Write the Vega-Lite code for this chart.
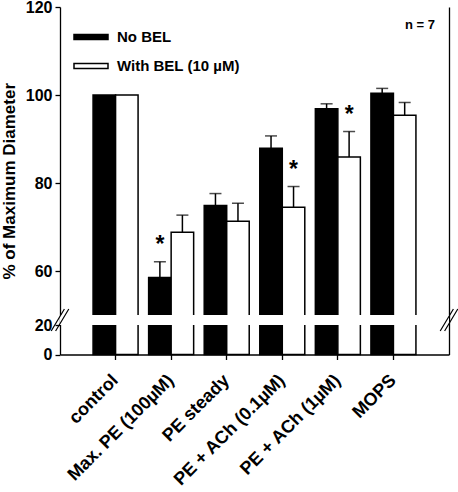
{
  "$schema": "https://vega.github.io/schema/vega-lite/v6.json",
  "width": 389,
  "height": 347.5,
  "autosize": {"type": "none"},
  "padding": {"left": 60, "top": 7, "right": 9, "bottom": 137.5},
  "background": "white",
  "config": {
    "font": "Liberation Sans",
    "view": {"stroke": null},
    "axis": {"zindex": 1, "grid": false, "domainColor": "black", "tickColor": "black", "labelColor": "black", "titleColor": "black", "domainWidth": 1.3, "tickWidth": 1.3}
  },
  "datasets": {
    "main": [
      {"condition": "control", "group": "No BEL", "mean": 100, "upper": 100, "sig": false},
      {"condition": "control", "group": "With BEL (10 µM)", "mean": 100, "upper": 100, "sig": false},
      {"condition": "Max. PE (100µM)", "group": "No BEL", "mean": 58.5, "upper": 62.1, "sig": true},
      {"condition": "Max. PE (100µM)", "group": "With BEL (10 µM)", "mean": 68.8, "upper": 72.7, "sig": false},
      {"condition": "PE steady", "group": "No BEL", "mean": 74.9, "upper": 77.6, "sig": false},
      {"condition": "PE steady", "group": "With BEL (10 µM)", "mean": 71.3, "upper": 75.4, "sig": false},
      {"condition": "PE + ACh (0.1µM)", "group": "No BEL", "mean": 87.9, "upper": 90.7, "sig": false},
      {"condition": "PE + ACh (0.1µM)", "group": "With BEL (10 µM)", "mean": 74.5, "upper": 79.2, "sig": true},
      {"condition": "PE + ACh (1µM)", "group": "No BEL", "mean": 96.9, "upper": 98.0, "sig": false},
      {"condition": "PE + ACh (1µM)", "group": "With BEL (10 µM)", "mean": 85.9, "upper": 91.7, "sig": true},
      {"condition": "MOPS", "group": "No BEL", "mean": 100.4, "upper": 101.5, "sig": false},
      {"condition": "MOPS", "group": "With BEL (10 µM)", "mean": 95.4, "upper": 98.3, "sig": false}
    ],
    "sides": [{"side": "left"}, {"side": "right"}],
    "note": [{"label": "n = 7"}]
  },
  "layer": [
    {
      "data": {"name": "main"},
      "mark": {"type": "bar", "stroke": "black", "strokeWidth": 1.5},
      "encoding": {
        "x": {"field": "condition", "type": "nominal",
          "scale": {"domain": ["control", "Max. PE (100µM)", "PE steady", "PE + ACh (0.1µM)", "PE + ACh (1µM)", "MOPS"], "paddingInner": 0.19, "paddingOuter": 0.595},
          "axis": {"title": null, "labelAngle": -45, "labelFontSize": 18, "labelFontWeight": "bold", "labelAlign": "right", "labelBaseline": "middle", "labelPadding": 18, "labelDx": 17, "tickSize": 5, "labelLimit": 300}},
        "xOffset": {"field": "group", "type": "nominal", "scale": {"domain": ["No BEL", "With BEL (10 µM)"], "paddingInner": 0, "paddingOuter": 0}},
        "y": {"field": "mean", "type": "quantitative",
          "scale": {"domain": [0, 20, 50, 120], "range": [347.5, 318, 308, 0], "nice": false, "zero": false},
          "axis": {"values": [0, 20, 60, 80, 100, 120], "labelFontSize": 16, "labelFontWeight": "bold", "tickSize": 5, "labelPadding": 3, "title": "% of Maximum Diameter", "titleFontSize": 17, "titleFontWeight": "bold", "titlePadding": 7}},
        "fill": {"field": "group", "type": "nominal",
          "scale": {"domain": ["No BEL", "With BEL (10 µM)"], "range": ["black", "white"]},
          "legend": {"title": null, "orient": "none", "legendX": 13, "legendY": 12, "direction": "vertical", "symbolType": "M-1,-0.147H1V0.147H-1Z", "symbolSize": 1156, "symbolStrokeColor": "black", "symbolStrokeWidth": 1.5, "labelFontSize": 15, "labelFontWeight": "bold", "labelColor": "black", "labelOffset": 8, "rowPadding": 3, "padding": 0}}
      }
    },
    {
      "data": {"name": "main"},
      "transform": [{"filter": "datum.upper > datum.mean"}],
      "mark": {"type": "rule", "color": "black", "strokeWidth": 1.5},
      "encoding": {
        "x": {"field": "condition", "type": "nominal", "scale": {"domain": ["control", "Max. PE (100µM)", "PE steady", "PE + ACh (0.1µM)", "PE + ACh (1µM)", "MOPS"], "paddingInner": 0.19, "paddingOuter": 0.595}, "axis": null},
        "xOffset": {"field": "group", "type": "nominal", "scale": {"domain": ["No BEL", "With BEL (10 µM)"], "paddingInner": 0, "paddingOuter": 0}},
        "y": {"field": "mean", "type": "quantitative", "axis": null},
        "y2": {"field": "upper"}
      }
    },
    {
      "data": {"name": "main"},
      "transform": [{"filter": "datum.upper > datum.mean"}],
      "mark": {"type": "tick", "color": "black", "thickness": 1.5, "size": 12},
      "encoding": {
        "x": {"field": "condition", "type": "nominal", "scale": {"domain": ["control", "Max. PE (100µM)", "PE steady", "PE + ACh (0.1µM)", "PE + ACh (1µM)", "MOPS"], "paddingInner": 0.19, "paddingOuter": 0.595}, "axis": null},
        "xOffset": {"field": "group", "type": "nominal", "scale": {"domain": ["No BEL", "With BEL (10 µM)"], "paddingInner": 0, "paddingOuter": 0}},
        "y": {"field": "upper", "type": "quantitative", "axis": null}
      }
    },
    {
      "data": {"name": "main"},
      "transform": [{"filter": "datum.sig"}],
      "mark": {"type": "text", "text": "*", "fontSize": 23, "fontWeight": "bold", "color": "black", "baseline": "alphabetic", "dy": -10},
      "encoding": {
        "x": {"field": "condition", "type": "nominal", "scale": {"domain": ["control", "Max. PE (100µM)", "PE steady", "PE + ACh (0.1µM)", "PE + ACh (1µM)", "MOPS"], "paddingInner": 0.19, "paddingOuter": 0.595}, "axis": null},
        "xOffset": {"field": "group", "type": "nominal", "scale": {"domain": ["No BEL", "With BEL (10 µM)"], "paddingInner": 0, "paddingOuter": 0}},
        "y": {"field": "upper", "type": "quantitative", "axis": null}
      }
    },
    {
      "data": {"name": "note"},
      "mark": {"type": "rect", "fill": "white"},
      "encoding": {
        "y": {"datum": 20, "type": "quantitative", "axis": {"orient": "right", "labels": false, "ticks": false, "title": null, "domain": true}},
        "y2": {"datum": 50}
      }
    },
    {
      "data": {"name": "sides"},
      "mark": {"type": "point", "shape": "M-0.8,1L0.4,-1M-0.4,1L0.8,-1", "filled": false, "stroke": "black", "strokeWidth": 1.2, "size": 484, "opacity": 1},
      "encoding": {
        "x": {"field": "side", "type": "nominal", "scale": {"type": "point", "padding": 0, "domain": ["left", "right"]}, "axis": null},
        "y": {"datum": 35, "type": "quantitative", "axis": null}
      }
    },
    {
      "data": {"name": "note"},
      "mark": {"type": "text", "fontSize": 13, "fontWeight": "bold", "color": "black", "align": "right", "baseline": "middle", "dx": -14},
      "encoding": {
        "text": {"field": "label"},
        "x": {"datum": "right", "type": "nominal", "scale": {"type": "point", "padding": 0, "domain": ["left", "right"]}, "axis": null},
        "y": {"datum": 116, "type": "quantitative", "axis": null}
      }
    }
  ],
  "resolve": {"scale": {"x": "independent"}, "axis": {"y": "independent", "x": "independent"}}
}
